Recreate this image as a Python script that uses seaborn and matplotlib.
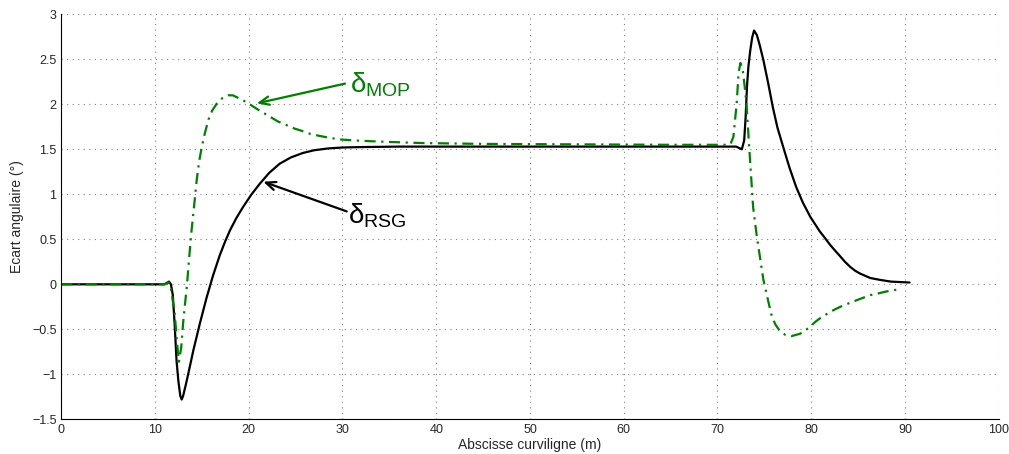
import numpy as np
import pandas as pd
import seaborn as sns
import matplotlib.pyplot as plt

# RSG curve (black, solid)
x_rsg = [0, 11.0, 11.5, 11.7, 11.9, 12.1, 12.3, 12.5, 12.7, 12.85, 13.0, 13.3, 13.6,
         14.1, 14.8, 15.5, 16.2, 16.9, 17.5, 18.0, 18.7, 19.4, 20.3, 21.2, 22.2, 23.3,
         24.5, 25.8, 27.0, 28.5, 30.0, 32.0, 36.0, 40, 50, 60, 70, 72.0, 72.6, 72.85,
         73.0, 73.15, 73.3, 73.5, 73.7, 73.9, 74.2, 74.5, 74.9, 75.4, 75.9, 76.4, 77.0,
         77.7, 78.4, 79.1, 79.9, 80.4, 80.9, 81.5, 82.0, 82.5, 83.1, 83.6, 84.2, 84.7,
         85.2, 86.3, 87.3, 88.5, 90.5]
y_rsg = [0, 0, 0.03, 0.0, -0.12, -0.45, -0.85, -1.08, -1.24, -1.28, -1.24, -1.11,
         -0.97, -0.73, -0.43, -0.15, 0.10, 0.32, 0.48, 0.60, 0.74, 0.86, 1.00, 1.12,
         1.24, 1.34, 1.41, 1.46, 1.49, 1.51, 1.52, 1.525, 1.53, 1.53, 1.53, 1.53, 1.53,
         1.53, 1.50, 1.60, 1.85, 2.20, 2.42, 2.60, 2.74, 2.82, 2.77, 2.66, 2.49, 2.24,
         1.97, 1.74, 1.53, 1.29, 1.08, 0.91, 0.75, 0.67, 0.59, 0.51, 0.44, 0.38, 0.31,
         0.25, 0.19, 0.15, 0.12, 0.07, 0.05, 0.03, 0.02]

# MOP curve (green, dash-dot)
x_mop = [0, 11.0, 11.5, 11.7, 12.1, 12.35, 12.55, 12.8, 13.0, 13.2, 13.4, 13.65, 13.9,
         14.2, 14.45, 14.7, 15.0, 15.3, 15.7, 16.1, 16.6, 17.2, 17.8, 18.3, 18.7, 19.3,
         19.95, 21.0, 22.3, 23.1, 24.0, 24.9, 25.8, 26.6, 27.5, 28.5, 29.7, 31.0, 33.0,
         35.5, 38.3, 45, 55, 65, 71.0, 71.4, 71.7, 72.05, 72.25, 72.45, 72.7, 72.9,
         73.1, 73.4, 73.8, 74.2, 74.9, 75.4, 75.8, 76.2, 76.6, 77.2, 77.9, 78.8, 79.4,
         79.9, 80.4, 80.9, 81.5, 82.0, 82.5, 83.1, 83.8, 84.5, 85.4, 86.3, 87.2, 88.0,
         88.8, 89.5]
y_mop = [0, 0, 0.02, -0.05, -0.32, -0.65, -0.86, -0.70, -0.43, -0.22, -0.02, 0.30,
         0.60, 0.90, 1.16, 1.36, 1.53, 1.67, 1.83, 1.93, 2.01, 2.07, 2.10, 2.10, 2.08,
         2.05, 2.01, 1.94, 1.86, 1.81, 1.77, 1.73, 1.70, 1.67, 1.65, 1.63, 1.61, 1.60,
         1.59, 1.58, 1.57, 1.56, 1.555, 1.55, 1.55, 1.56, 1.64, 2.01, 2.35, 2.46, 2.38,
         2.20, 2.00, 1.50, 0.86, 0.53, 0.05, -0.18, -0.36, -0.45, -0.51, -0.56, -0.575,
         -0.55, -0.51, -0.47, -0.42, -0.38, -0.34, -0.31, -0.28, -0.25, -0.22, -0.19,
         -0.155, -0.12, -0.10, -0.08, -0.065, -0.056]

x_ticks = list(range(0, 101, 10))
y_ticks = [-1.5, -1, -0.5, 0, 0.5, 1, 1.5, 2, 2.5, 3]
y_ticklabels = ["\u22121.5", "\u22121", "\u22120.5", "0", "0.5", "1", "1.5", "2", "2.5", "3"]

sns.set_style("white")
plt.rcParams['font.family'] = ['Liberation Sans', 'DejaVu Sans']
plt.rcParams['mathtext.fontset'] = 'custom'
plt.rcParams['mathtext.rm'] = 'Liberation Sans'
plt.rcParams['mathtext.it'] = 'Liberation Sans'

green = '#008000'

fig = plt.figure(figsize=(10.09, 4.54), dpi=100)
ax = fig.add_axes([0.0607, 0.0764, 0.9291, 0.8921])

sns.lineplot(x=x_rsg, y=y_rsg, color='black', linewidth=1.6, ax=ax,
             estimator=None, sort=False)
sns.lineplot(x=x_mop, y=y_mop, color=green, linewidth=1.6, ax=ax,
             estimator=None, sort=False, linestyle=(0, (5, 2.5, 1, 2.5)))

ax.set_xlim(0, 100)
ax.set_ylim(-1.5, 3)
ax.set_xticks(x_ticks)
ax.set_yticks(y_ticks)
ax.set_yticklabels(y_ticklabels)
ax.grid(True, linestyle=(0, (1, 4)), color='#808080', linewidth=0.8)
ax.tick_params(direction='in', length=5, width=0.8, labelsize=9, color='black')
for s in ['top', 'right']:
    ax.spines[s].set_visible(False)
for s in ['left', 'bottom']:
    ax.spines[s].set_color('black')
    ax.spines[s].set_linewidth(0.8)

ax.set_xlabel("Abscisse curviligne (m)", fontsize=10, labelpad=1)
ax.set_ylabel("Ecart angulaire (°)", fontsize=10, labelpad=6)

# annotations
ax.annotate('', xy=(20.85, 2.01), xytext=(30.27, 2.23),
            arrowprops=dict(arrowstyle='->, head_length=0.7, head_width=0.3',
                            color=green, lw=1.6, shrinkA=0, shrinkB=0))
ax.text(30.8, 2.22, r'$\mathrm{\delta}_{\mathrm{MOP}}$', color=green, fontsize=20,
        ha='left', va='center')
ax.annotate('', xy=(21.55, 1.14), xytext=(30.45, 0.81),
            arrowprops=dict(arrowstyle='->, head_length=0.7, head_width=0.3',
                            color='black', lw=1.6, shrinkA=0, shrinkB=0))
ax.text(30.6, 0.76, r'$\mathrm{\delta}_{\mathrm{RSG}}$', color='black', fontsize=20,
        ha='left', va='center')

plt.savefig('out.png', dpi=100)
